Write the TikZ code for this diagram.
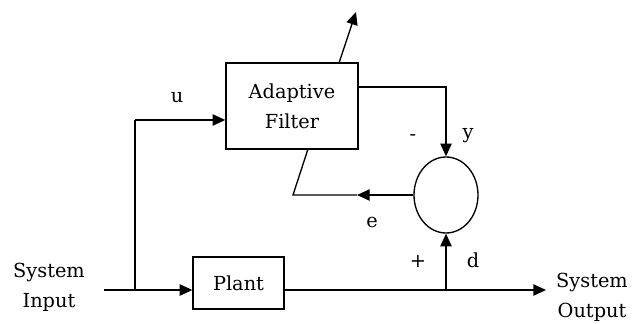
\documentclass[tikz,border=0pt]{standalone}
\usepackage{fontspec}
\setmainfont{DejaVu Serif}
\usetikzlibrary{arrows.meta,shapes.geometric,calc}
\begin{document}
\begin{tikzpicture}[x=0.75pt,y=-0.75pt,
  every node/.style={font=\fontsize{14.5}{22.5}\selectfont},
  blk/.style={draw,line width=1pt,inner sep=0pt,align=center},
  ln/.style={line width=1pt},
  arr/.style={line width=1pt,-{Triangle[length=9.5pt,width=8.5pt]}},
  lbl/.style={inner sep=0pt,align=center}]
\useasboundingbox (0,0) rectangle (642,324);
\node[blk,minimum width=99pt,minimum height=64.5pt] (filt) at (292,106) {Adaptive\\Filter};
\node[blk,minimum width=68.25pt,minimum height=39pt] (plant) at (238.5,283) {Plant};
\node[draw,line width=1pt,ellipse,inner sep=0pt,minimum width=48pt,minimum height=57pt] (sum) at (446,195) {};
\coordinate (in) at (104,290);
\coordinate (br) at (135,290);
\coordinate (ub) at (135,120);
\coordinate (dj) at (446,290);
\coordinate (out) at (546,290);
\coordinate (top) at (356,12);
\coordinate (ftop) at (339,63);
\coordinate (fy) at (358,87);
\coordinate (ea) at (357,195);
\coordinate (ec) at (293,195);
\coordinate (fb) at (308,149);
% input and plant
\draw[arr] (in) -- (in -| plant.west);
\draw[ln] (br) -- (ub);
\draw[arr] (ub) -- (ub -| filt.west);
\draw[ln] (dj -| plant.east) -- (dj);
\draw[arr] (dj) -- (out);
\draw[arr] (dj) -- (sum.south);
% filter output y
\draw[arr] (fy) -| (sum.north);
% error path
\draw[arr] (sum.west) -- (ea);
\draw[ln] (ea) -- (ec) -- (fb);
% adaptation arrow
\draw[arr] (ftop) -- (top);
% labels
\node[lbl] (lu) at (177,98) {u};
\node[lbl] (lm) at (413,138) {-};
\node[lbl] (ly) at (468,136) {y};
\node[lbl] (le) at (372,222) {e};
\node[lbl] (lp) at (418,261) {+};
\node[lbl] (ld) at (473,260) {d};
\node[lbl] (sin) at (49,287) {System\\Input};
\node[lbl] (sout) at (592,297) {System\\Output};
\end{tikzpicture}
\end{document}
